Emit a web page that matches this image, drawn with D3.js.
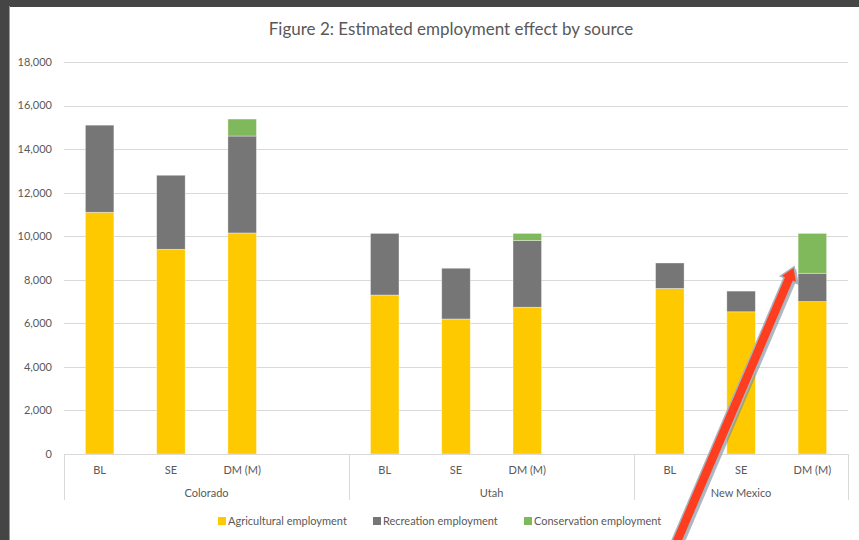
<!DOCTYPE html>
<html>
<head>
<meta charset="utf-8">
<script src="https://cdn.jsdelivr.net/npm/d3@7"></script>
<style>
  html, body { margin: 0; padding: 0; background: #454545; }
  svg { display: block; }
  text { font-family: Lato, "Open Sans", sans-serif; fill: #595959; }
</style>
</head>
<body>
<div id="chart"></div>
<script>
// chart data
var states = ["Colorado", "Utah", "New Mexico"];
var scenarios = ["BL", "SE", "DM (M)"];
var slotsPerState = [4, 4, 3]; // Excel left an empty 4th category in first two groups
var agricultural = [11100, 9400, 10150, 7300, 6200, 6740, 7600, 6530, 7000];
var recreation   = [4000, 3400, 4450, 2830, 2330, 3060, 1170, 950, 1300];
var conservation = [0, 0, 780, 0, 0, 330, 0, 0, 1830];
var seriesNames = ["Agricultural employment", "Recreation employment", "Conservation employment"];
var yTicks = [0, 2000, 4000, 6000, 8000, 10000, 12000, 14000, 16000, 18000];
var title = "Figure 2: Estimated employment effect by source";

var W = 859, H = 540;
var colors = ["#ffc900", "#767676", "#80b95b"];

var svg = d3.select("#chart").append("svg")
  .attr("width", W).attr("height", H);

// white chart area inside the dark frame
svg.append("rect").attr("x", 10).attr("y", 7).attr("width", W - 10).attr("height", H - 7)
  .attr("fill", "#fff");
svg.append("line").attr("x1", 9.5).attr("x2", 9.5).attr("y1", 6).attr("y2", H)
  .attr("stroke", "#9a9a9a").attr("stroke-width", 1);

// build category slots
var slots = [];
var rows = [];
var k = 0;
states.forEach(function(s, i) {
  for (var j = 0; j < slotsPerState[i]; j++) {
    var key = s + "|" + j;
    slots.push(key);
    if (j < scenarios.length) {
      rows.push({ key: key, state: s, scen: scenarios[j],
        ag: agricultural[k], rec: recreation[k], con: conservation[k] });
      k++;
    }
  }
});

var x = d3.scaleBand().domain(slots).range([64, 848]).paddingInner(0.6).paddingOuter(0.3);
var y = d3.scaleLinear().domain([0, 18000]).range([454, 62]);
var step = x.step();

// gridlines
svg.append("g").selectAll("line").data(yTicks.filter(function(d){ return d > 0; })).enter()
  .append("line")
  .attr("x1", 64).attr("x2", 848)
  .attr("y1", function(d){ return Math.round(y(d)) + 0.5; })
  .attr("y2", function(d){ return Math.round(y(d)) + 0.5; })
  .attr("stroke", "#d9d9d9").attr("stroke-width", 1);

// y tick labels
svg.append("g").selectAll("text").data(yTicks).enter().append("text")
  .attr("x", 52).attr("y", function(d){ return y(d); })
  .attr("dy", "0.35em").attr("text-anchor", "end")
  .style("font-size", "11px")
  .text(function(d){ return d3.format(",")(d); });

// stacked bars
var stack = d3.stack().keys(["ag", "rec", "con"]);
var layers = stack(rows);
svg.append("g").selectAll("g").data(layers).enter().append("g")
  .attr("fill", function(d, i){ return colors[i]; })
  .selectAll("rect").data(function(d){ return d; }).enter()
  .filter(function(d){ return d[1] - d[0] > 0; })
  .append("rect")
  .attr("x", function(d){ return x(d.data.key); })
  .attr("width", x.bandwidth())
  .attr("y", function(d){ return y(d[1]); })
  .attr("height", function(d){ return y(d[0]) - y(d[1]); })
  .attr("stroke", "#ffffff").attr("stroke-opacity", 0.5).attr("stroke-width", 0.7);

// axis line
svg.append("line").attr("x1", 64).attr("x2", 848).attr("y1", 454.5).attr("y2", 454.5)
  .attr("stroke", "#d9d9d9");

// group separators (multi-level axis)
var acc = 0;
var sepX = [64];
slotsPerState.forEach(function(n) { acc += n; sepX.push(64 + acc * step); });
svg.append("g").selectAll("line").data(sepX).enter().append("line")
  .attr("x1", function(d){ return Math.round(d) + 0.5; })
  .attr("x2", function(d){ return Math.round(d) + 0.5; })
  .attr("y1", 454).attr("y2", 500)
  .attr("stroke", "#d9d9d9");

// category labels
svg.append("g").selectAll("text").data(rows).enter().append("text")
  .attr("x", function(d){ return x(d.key) + x.bandwidth() / 2; })
  .attr("y", 470).attr("dy", "0.35em").attr("text-anchor", "middle")
  .style("font-size", "11px")
  .text(function(d){ return d.scen; });

// group labels
svg.append("g").selectAll("text").data(states).enter().append("text")
  .attr("x", function(d, i){ return (sepX[i] + sepX[i + 1]) / 2; })
  .attr("y", 493).attr("dy", "0.35em").attr("text-anchor", "middle")
  .style("font-size", "11px")
  .text(function(d){ return d; });

// title
svg.append("text").attr("x", 451).attr("y", 29).attr("dy", "0.35em")
  .attr("text-anchor", "middle").style("font-size", "17px").text(title);

// legend
var legendX = [218, 373, 524];
var lg = svg.append("g").selectAll("g").data(seriesNames).enter().append("g")
  .attr("transform", function(d, i){ return "translate(" + legendX[i] + ",517)"; });
lg.append("rect").attr("width", 8).attr("height", 8)
  .attr("fill", function(d, i){ return colors[i]; });
lg.append("text").attr("x", 10).attr("y", 4).attr("dy", "0.35em")
  .style("font-size", "11px").text(function(d){ return d; });

// red annotation arrow pointing at New Mexico DM (M)
var target = rows[8];
var tip = [x(target.key) - 4, y(target.ag + target.rec + 300)];
var tail = [669, 560];
var ang = Math.atan2(tip[1] - tail[1], tip[0] - tail[0]);
var ux = Math.cos(ang), uy = Math.sin(ang), px = -uy, py = ux;
var sw = 5, hw = 9, hl = 14;
var hb = [tip[0] - ux * hl, tip[1] - uy * hl];
var pts = [
  [tail[0] + px * sw, tail[1] + py * sw],
  [hb[0] + px * sw, hb[1] + py * sw],
  [hb[0] + px * hw, hb[1] + py * hw],
  tip,
  [hb[0] - px * hw, hb[1] - py * hw],
  [hb[0] - px * sw, hb[1] - py * sw],
  [tail[0] - px * sw, tail[1] - py * sw]
];
var arrowLine = d3.line();
svg.append("path").attr("d", arrowLine(pts) + "Z")
  .attr("transform", "translate(2,2)")
  .attr("fill", "#7a8a99").attr("opacity", 0.6);
svg.append("path").attr("d", arrowLine(pts) + "Z")
  .attr("fill", "#ff3d1f").attr("stroke", "#a9b4bf").attr("stroke-width", 1.5);
</script>
</body>
</html>
